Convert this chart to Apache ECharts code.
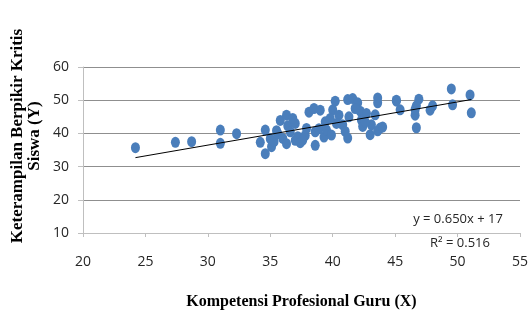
<!DOCTYPE html>
<html>
<head>
<meta charset="utf-8">
<script src="https://cdn.jsdelivr.net/npm/echarts@6/dist/echarts.min.js"></script>
<style>
html,body{margin:0;padding:0;background:#fff;}
#chart{width:528px;height:311px;}
</style>
</head>
<body>
<div id="chart"></div>
<script>
// Data
const xValues = [24.2,27.4,28.7,31.0,31.0,32.3,34.2,34.6,34.6,35.0,35.1,35.3,35.6,35.8,36.0,36.3,36.4,36.3,36.6,37.0,
  37.0,37.2,37.4,37.8,37.9,38.1,38.5,38.6,38.6,38.9,39.0,39.3,39.4,39.5,39.9,40.0,40.2,40.5,40.8,41.0,
  41.2,41.2,41.3,41.6,42.0,42.2,42.3,42.4,42.7,43.0,43.1,43.4,43.6,43.6,43.8,43.6,45.1,45.4,45.1,46.6,
  46.7,46.9,46.7,46.6,47.8,48.0,49.5,49.6,51.0,51.1,37.6,36.8,40.3,41.8,42.6,44.0,39.8,35.5];
const yValues = [35.7,37.3,37.5,37.0,41.0,39.9,37.3,33.9,41.0,38.4,36.0,37.5,39.9,43.9,38.5,45.5,42.3,36.9,40.5,43.0,
  37.9,39.0,37.2,39.4,41.5,46.4,47.5,36.4,40.5,41.4,47.0,38.9,43.5,41.0,39.5,47.1,49.7,45.5,42.6,40.6,
  38.6,50.2,45.0,50.5,49.2,46.7,44.0,42.1,46.0,39.6,42.6,45.6,50.7,49.2,41.6,40.8,49.7,47.1,50.0,45.5,
  41.7,50.3,48.3,47.2,47.0,48.3,53.4,48.6,51.6,46.2,38.0,44.5,43.0,47.5,43.5,41.9,44.5,40.8];
const trendX = [24.2, 51.1];
const trendY = [32.7, 50.2];
const xTicks = [20, 25, 30, 35, 40, 45, 50, 55];
const yTicks = [10, 20, 30, 40, 50, 60];
const equationText = 'y = 0.650x + 17';
const r2Text = 'R² = 0.516';
const xTitle = 'Kompetensi Profesional Guru (X)';
const yTitle = ['Keterampilan Berpikir Kritis', 'Siswa (Y)'];

const scatterData = xValues.map((x, i) => [x, yValues[i]]);
const trendData = trendX.map((x, i) => [x, trendY[i]]);

const chart = echarts.init(document.getElementById('chart'), null, {renderer: 'canvas'});
const labelFont = {fontFamily: 'Open Sans', fontSize: 14, color: '#262626'};
chart.setOption({
  animation: false,
  backgroundColor: '#ffffff',
  grid: {left: 83, right: 8, top: 67, bottom: 78, containLabel: false, outerBoundsMode: 'none'},
  xAxis: {
    type: 'value',
    min: xTicks[0], max: xTicks[xTicks.length - 1], interval: 5,
    axisLine: {show: true, onZero: false, lineStyle: {color: '#bfbfbf', width: 1}},
    axisTick: {show: true, length: 4, lineStyle: {color: '#bfbfbf'}},
    axisLabel: Object.assign({margin: 22}, labelFont),
    splitLine: {show: false},
    name: xTitle,
    nameLocation: 'middle',
    nameGap: 61,
    nameTextStyle: {fontFamily: 'Liberation Serif', fontWeight: 'bold', fontSize: 16, color: '#000'}
  },
  yAxis: {
    type: 'value',
    min: yTicks[0], max: yTicks[yTicks.length - 1], interval: 10,
    axisLine: {show: true, onZero: false, lineStyle: {color: '#bfbfbf', width: 1}},
    axisTick: {show: true, length: 5, lineStyle: {color: '#bfbfbf'}},
    axisLabel: Object.assign({margin: 14}, labelFont),
    splitLine: {show: true, lineStyle: {color: '#8f8f8f', width: 1}}
  },
  graphic: [
    {
      type: 'text', x: 26, y: 136, rotation: Math.PI / 2,
      style: {
        text: yTitle.join('\n'), fontFamily: 'Liberation Serif', fontWeight: 'bold',
        fontSize: 17, lineHeight: 17, fill: '#000', align: 'center', verticalAlign: 'middle'
      }
    },
    {
      type: 'text', x: 458, y: 219,
      style: {text: equationText, fontFamily: 'Open Sans', fontSize: 13, fill: '#262626', align: 'center', verticalAlign: 'middle'}
    },
    {
      type: 'text', x: 460, y: 243,
      style: {text: r2Text, fontFamily: 'Open Sans', fontSize: 13, fill: '#262626', align: 'center', verticalAlign: 'middle'}
    }
  ],
  series: [
    {
      type: 'scatter',
      data: scatterData,
      symbol: 'circle',
      symbolSize: [9, 11],
      itemStyle: {color: '#4a7ebb', opacity: 1},
      z: 2
    },
    {
      type: 'line',
      data: trendData,
      symbol: 'none',
      lineStyle: {color: '#000', width: 1},
      z: 3
    }
  ]
});
</script>
</body>
</html>
